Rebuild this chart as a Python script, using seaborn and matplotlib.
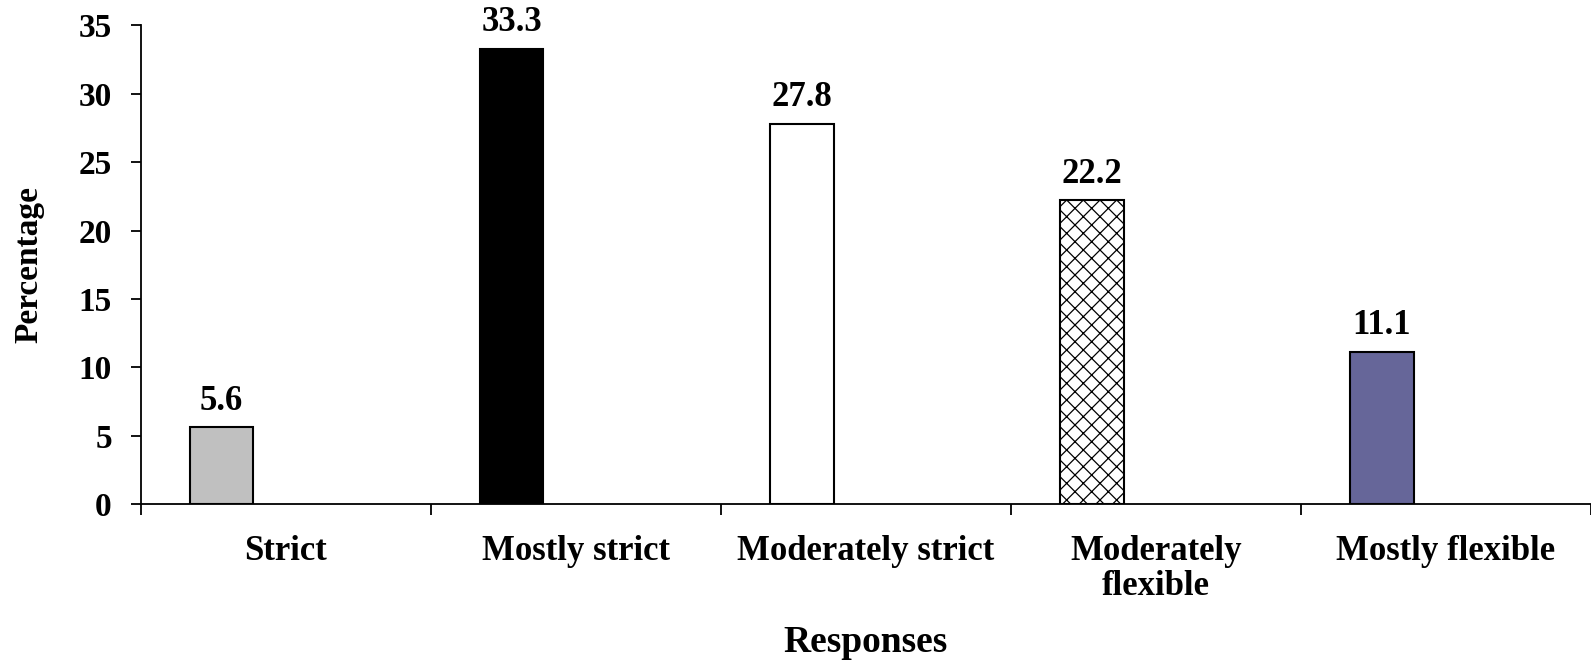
import matplotlib
matplotlib.use("Agg")
import matplotlib.pyplot as plt
import seaborn as sns
import pandas as pd

# Survey responses and their shares (%)
categories = ["Strict", "Mostly strict", "Moderately strict",
              "Moderately\nflexible", "Mostly flexible"]
percentages = [5.6, 33.3, 27.8, 22.2, 11.1]
bar_colors = ["#C0C0C0", "#000000", "#FFFFFF", "#FFFFFF", "#666699"]
bar_hatches = ["", "", "", "xx", ""]
y_ticks = [0, 5, 10, 15, 20, 25, 30, 35]

sns.set_theme(style="white")
plt.rcParams["font.family"] = ["Liberation Serif", "DejaVu Serif"]
plt.rcParams["font.weight"] = "bold"
plt.rcParams["text.color"] = "black"
plt.rcParams["axes.labelcolor"] = "black"
plt.rcParams["xtick.color"] = "black"
plt.rcParams["ytick.color"] = "black"
plt.rcParams["hatch.linewidth"] = 0.9
plt.rcParams["hatch.color"] = "black"

df = pd.DataFrame({"Responses": categories, "Percentage": percentages})

fig = plt.figure(figsize=(15.91, 6.60), dpi=100)
ax = fig.add_axes([0.0886, 0.2364, 0.9114, 0.7251])

sns.barplot(data=df, x="Responses", y="Percentage", hue="Responses",
            palette=bar_colors, width=0.22, edgecolor="black",
            linewidth=1.5, legend=False, ax=ax, saturation=1)

# Bars sit left of the category centre, as in a clustered column layout
shift = 0.222
for patch, hatch in zip(ax.patches, bar_hatches):
    patch.set_x(patch.get_x() - shift)
    patch.set_hatch(hatch)

# Value labels above each bar
for patch, val in zip(ax.patches, percentages):
    ax.annotate(f"{val:.1f}", (patch.get_x() + patch.get_width() / 2, val),
                xytext=(0, 7), textcoords="offset points",
                ha="center", va="bottom", fontsize=25, fontweight="bold",
                color="black")

ax.set_xlim(-0.5, len(categories) - 0.5)
ax.set_ylim(0, 35)
ax.set_yticks(y_ticks)
ax.set_yticklabels([str(t) for t in y_ticks], fontsize=24, fontweight="bold")
ax.set_xticks(range(len(categories)))
ax.set_xticklabels(categories, fontsize=25, fontweight="bold", linespacing=1.1)
ax.set_xticks([i - 0.5 for i in range(len(categories) + 1)], minor=True)

ax.tick_params(axis="x", which="major", length=0, pad=22)
ax.tick_params(axis="x", which="minor", length=8, width=1.3, color="black",
               direction="out", bottom=True)
ax.tick_params(axis="y", length=7, width=1.3, color="black",
               direction="out", left=True, pad=14)

for side in ["top", "right"]:
    ax.spines[side].set_visible(False)
for side in ["left", "bottom"]:
    ax.spines[side].set_color("black")
    ax.spines[side].set_linewidth(1.3)

ax.set_xlabel("Responses", fontsize=27, fontweight="bold", va="center")
ax.set_ylabel("Percentage", fontsize=24, fontweight="bold", va="center")
ax.xaxis.set_label_coords(0.5, -0.29)
ax.yaxis.set_label_coords(-0.077, 0.5)

fig.savefig("out.png", dpi=100)
